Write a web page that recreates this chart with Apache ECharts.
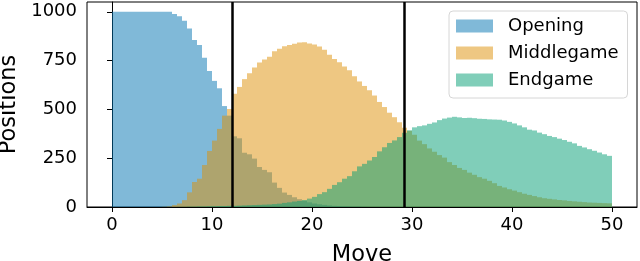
<!DOCTYPE html>
<html>
<head>
<meta charset="utf-8">
<script src="https://cdn.jsdelivr.net/npm/echarts@6/dist/echarts.min.js"></script>
<style>html,body{margin:0;padding:0;background:#fff}#c{width:640px;height:261px}</style>
</head>
<body>
<div id="c"></div>
<script>
// Histogram bins: 100 bins of 0.5 move from 0 to 50 (bin centres)
const binWidth = 0.5;
const binCount = 100;
const moveBins = Array.from({length: binCount}, (_, i) => i * binWidth + binWidth / 2);

const seriesNames = ['Opening', 'Middlegame', 'Endgame'];

const opening = [
  1000,1000,1000,1000,1000,1000,1000,1000,1000,1000,1000,1000,
  988,977,954,914,856,830,765,697,646,608,517,468,362,352,278,270,248,205,190,178,
  125,98,74,62,50,40,31,24,18,14,11,8,6,5,4,3,2,2,1,
  0,0,0,0,0,0,0,0,0,0,0,0,0,0,0,0,0,0,0,0,0,0,0,0,0,0,0,0,0,0,0,0,0,0,0,0,0,0,0,0,0,0,0,0,0,0,0,0,0
];

const middlegame = [
  0,0,0,0,0,0,0,0,0,0,
  1,3,10,18,35,75,128,145,215,287,340,400,468,502,580,615,655,685,715,740,
  755,770,798,810,823,830,836,843,844,838,832,822,805,780,758,742,720,701,670,643,
  620,598,571,538,512,483,460,434,406,390,370,340,322,300,283,266,253,230,215,200,
  190,176,165,153,145,134,122,108,100,91,84,76,68,62,56,50,45,42,39,36,
  34,31,29,27,25,23,22,21,20,19
];

const endgame = [
  0,0,0,0,0,0,0,0,0,0,0,0,0,
  1,1,2,2,3,3,4,4,5,5,6,6,7,
  8,9,10,11,12,13,
  15,17,21,24,28,31,36,43,
  52,66,76,93,113,127,145,158,183,208,221,238,256,285,306,328,341,358,380,
  393,408,414,418,426,433,445,453,458,462,459,456,457,455,452,451,449,448,447,443,
  436,428,418,408,396,392,381,373,364,358,350,343,334,326,313,305,296,288,279,270,262
];

const xTicks = [0, 10, 20, 30, 40, 50];
const yTicks = [0, 250, 500, 750, 1000];
const phaseBoundaries = [12.0, 29.25];

const colors = ['rgba(1,115,178,0.5)', 'rgba(222,143,5,0.5)', 'rgba(2,158,115,0.5)'];
const FONT = 'DejaVu Sans';

const allValues = [opening, middlegame, endgame];
const series = allValues.map((vals, k) => {
  const s = {
    name: seriesNames[k],
    type: 'bar',
    data: vals.map((v, i) => [moveBins[i], v]),
    barWidth: '100%',
    barGap: '-100%',
    itemStyle: {color: colors[k]},
    emphasis: {disabled: true},
    animation: false
  };
  if (k === 2) {
    s.markLine = {
      silent: true,
      symbol: 'none',
      label: {show: false},
      lineStyle: {color: '#000', width: 2.5, type: 'solid'},
      data: phaseBoundaries.map(x => ({xAxis: x}))
    };
  }
  return s;
});

const chart = echarts.init(document.getElementById('c'), null, {renderer: 'canvas'});
chart.setOption({
  animation: false,
  textStyle: {fontFamily: FONT},
  grid: {left: 87, right: 3, top: 2, bottom: 54, show: true, borderColor: '#000', borderWidth: 1, containLabel: false, outerBoundsMode: 'none'},
  legend: {
    data: seriesNames,
    orient: 'vertical',
    left: 449,
    top: 11,
    itemWidth: 37,
    itemHeight: 13,
    itemGap: 9,
    icon: 'rect',
    padding: [6, 9, 9, 7],
    backgroundColor: 'rgba(255,255,255,0.8)',
    borderColor: '#d6d6d6',
    borderWidth: 1,
    borderRadius: 4,
    textStyle: {fontFamily: FONT, fontSize: 18, color: '#000', padding: [0, 0, 0, 10]}
  },
  xAxis: {
    type: 'value',
    min: -2.5,
    max: 52.5,
    name: 'Move',
    nameLocation: 'middle',
    nameGap: 37,
    nameTextStyle: {fontFamily: FONT, fontSize: 22.5, color: '#000'},
    axisLine: {show: true, lineStyle: {color: '#000', width: 1}},
    axisTick: {show: true, length: 5, lineStyle: {color: '#000'}, customValues: xTicks},
    axisLabel: {show: true, fontFamily: FONT, fontSize: 18, color: '#000', margin: 9, customValues: xTicks, formatter: v => String(v)},
    splitLine: {show: false}
  },
  yAxis: {
    type: 'value',
    min: 0,
    max: 1050,
    name: 'Positions',
    nameLocation: 'middle',
    nameGap: 62,
    nameTextStyle: {fontFamily: FONT, fontSize: 22.5, color: '#000'},
    axisLine: {show: true, lineStyle: {color: '#000', width: 1}},
    axisTick: {show: true, length: 5, lineStyle: {color: '#000'}, customValues: yTicks},
    axisLabel: {show: true, fontFamily: FONT, fontSize: 18, color: '#000', margin: 10, customValues: yTicks, formatter: v => String(v)},
    splitLine: {show: false}
  },
  series: series
});
</script>
</body>
</html>
